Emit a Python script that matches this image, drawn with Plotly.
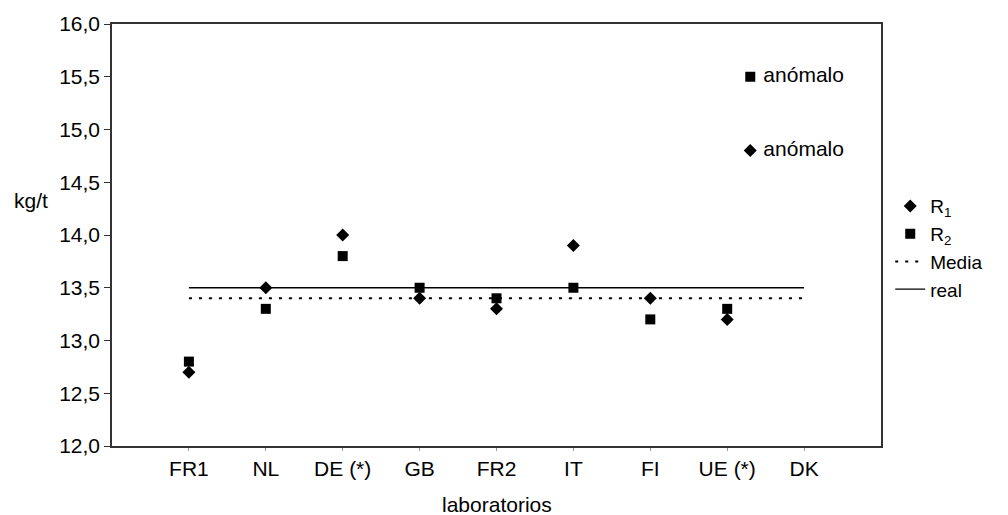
import plotly.graph_objects as go

categories = ["FR1", "NL", "DE (*)", "GB", "FR2", "IT", "FI", "UE (*)", "DK"]
r1_values = [12.7, 13.5, 14.0, 13.4, 13.3, 13.9, 13.4, 13.2, None]
r2_values = [12.8, 13.3, 13.8, 13.5, 13.4, 13.5, 13.2, 13.3, None]
media_value = 13.4
real_value = 13.5
anomaly_label = "anómalo"
anomaly_r1 = 14.8
anomaly_r2 = 15.5
y_ticks = [12.0, 12.5, 13.0, 13.5, 14.0, 14.5, 15.0, 15.5, 16.0]

xpos = list(range(1, len(categories) + 1))
FONT = "Liberation Sans, Arial, sans-serif"
FS = 21

fig = go.Figure()
fig.add_trace(go.Scatter(
    x=xpos, y=r1_values, mode="markers", name="R<sub>1</sub>",
    marker=dict(symbol="diamond", size=10, color="black"),
))
fig.add_trace(go.Scatter(
    x=xpos, y=r2_values, mode="markers", name="R<sub>2</sub>",
    marker=dict(symbol="square", size=10, color="black"),
))
fig.add_trace(go.Scatter(
    x=[xpos[0], xpos[-1]], y=[media_value, media_value], mode="lines", name="Media",
    line=dict(color="black", width=2, dash="3px,7px"),
))
fig.add_trace(go.Scatter(
    x=[xpos[0], xpos[-1]], y=[real_value, real_value], mode="lines", name="real",
    line=dict(color="black", width=1.3),
))
anom_x = 8.3
fig.add_trace(go.Scatter(
    x=[anom_x], y=[anomaly_r2], mode="markers+text", text=[" " + anomaly_label],
    textposition="middle right", showlegend=False,
    marker=dict(symbol="square", size=10, color="black"),
    textfont=dict(size=FS, color="black", family=FONT),
))
fig.add_trace(go.Scatter(
    x=[anom_x], y=[anomaly_r1], mode="markers+text", text=[" " + anomaly_label],
    textposition="middle right", showlegend=False,
    marker=dict(symbol="diamond", size=10, color="black"),
    textfont=dict(size=FS, color="black", family=FONT),
))

fig.update_layout(
    width=1008, height=515,
    margin=dict(l=112, r=127, t=22, b=69),
    paper_bgcolor="white", plot_bgcolor="white",
    separators=",.",
    font=dict(family=FONT, size=FS, color="black"),
    showlegend=True,
    legend=dict(
        x=1.012, y=0.47, xanchor="left", yanchor="middle",
        font=dict(size=19, color="black", family=FONT),
        tracegroupgap=0, itemwidth=30, bgcolor="rgba(0,0,0,0)",
    ),
    annotations=[
        dict(text="kg/t", x=0, xref="paper", xanchor="right", xshift=-62,
             y=14.33, yref="y", yanchor="middle", showarrow=False,
             font=dict(size=FS, color="black", family=FONT)),
        dict(text="laboratorios", x=0.5, xref="paper", xanchor="center",
             y=0, yref="paper", yanchor="middle", yshift=-58, showarrow=False,
             font=dict(size=FS, color="black", family=FONT)),
    ],
)
fig.update_xaxes(
    range=[0, 10], tickmode="array", tickvals=xpos, ticktext=categories,
    showgrid=False, zeroline=False, showline=True, linecolor="#333", linewidth=1.5,
    mirror=True, ticks="outside", ticklen=3, tickcolor="#999",
    tickfont=dict(size=FS, color="black"),
)
fig.update_yaxes(
    range=[12, 16], tickmode="array", tickvals=y_ticks, tickformat=".1f",
    showgrid=False, zeroline=False, showline=True, linecolor="#333", linewidth=1.5,
    mirror=True, ticks="outside", ticklen=6, tickcolor="#333",
    tickfont=dict(size=FS, color="black"),
)

fig.write_html("out.html")
